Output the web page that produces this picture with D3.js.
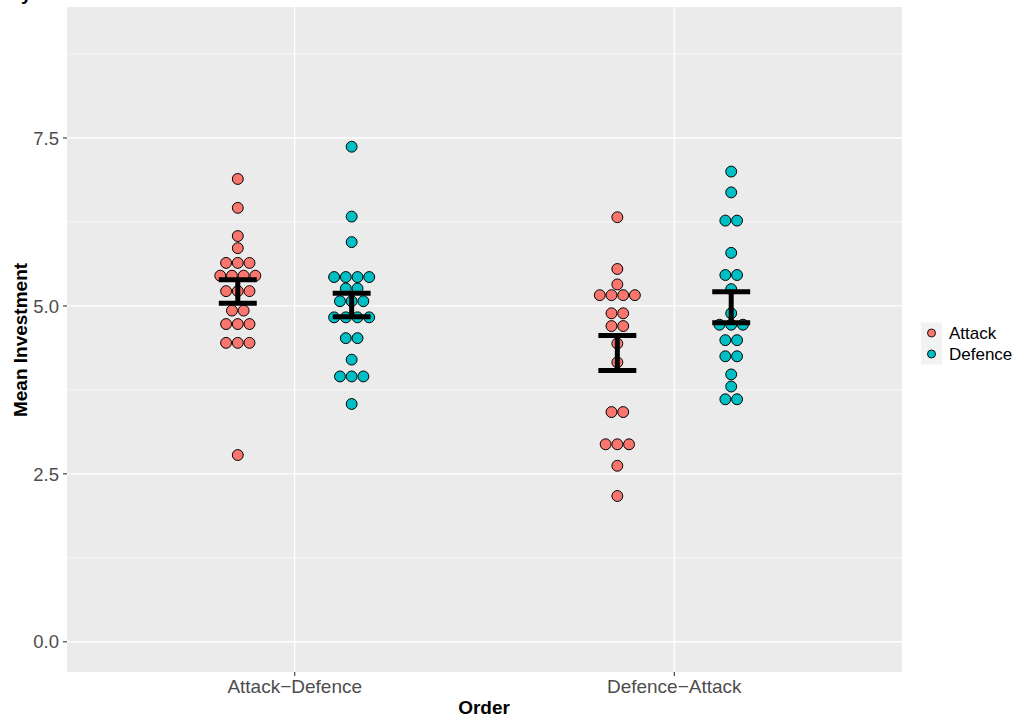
<!DOCTYPE html>
<html>
<head>
<meta charset="utf-8">
<script src="https://cdn.jsdelivr.net/npm/d3@7/dist/d3.min.js"></script>
<style>
  body { margin: 0; background: #fff; }
  svg text { font-family: "Liberation Sans", Arial, Helvetica, sans-serif; }
</style>
</head>
<body>
<svg id="chart" width="1018" height="720"></svg>
<script>
// ---- data ----
const orders = ["Attack\u2212Defence", "Defence\u2212Attack"];
const roles = ["Attack", "Defence"];
const roleColors = ["#F8766D", "#00BFC4"];
const yTicks = [0, 2.5, 5, 7.5];
const yTickLabels = ["0.0", "2.5", "5.0", "7.5"];

// individual participant means (one dot each)
const adAttack = [6.89, 6.46, 6.04, 5.86, 5.64, 5.64, 5.64, 5.45, 5.45, 5.45, 5.45,
  5.22, 5.22, 5.22, 4.93, 4.93, 4.73, 4.73, 4.73, 4.45, 4.45, 4.45, 2.78];
const adDefence = [7.37, 6.33, 5.95, 5.43, 5.43, 5.43, 5.43, 5.26, 5.26, 5.07, 5.07, 5.07,
  4.83, 4.83, 4.83, 4.83, 4.52, 4.52, 4.20, 3.95, 3.95, 3.95, 3.54];
const daAttack = [6.32, 5.55, 5.32, 5.16, 5.16, 5.16, 5.16, 4.89, 4.89, 4.70, 4.70,
  4.44, 4.16, 3.42, 3.42, 2.94, 2.94, 2.94, 2.62, 2.17];
const daDefence = [7.00, 6.69, 6.27, 6.27, 5.79, 5.46, 5.46, 5.25, 4.89, 4.72, 4.72, 4.72,
  4.49, 4.49, 4.25, 4.25, 3.98, 3.80, 3.61, 3.61];

// error bars (mean ± SE)
const errLow = [5.04, 4.84, 4.04, 4.75];
const errHigh = [5.39, 5.19, 4.56, 5.21];

const groups = [
  { order: 0, role: 0, values: adAttack },
  { order: 0, role: 1, values: adDefence },
  { order: 1, role: 0, values: daAttack },
  { order: 1, role: 1, values: daDefence }
];

// ---- layout ----
const svg = d3.select("#chart");
const panel = { left: 67, top: 7, right: 902, bottom: 672 };

const y = d3.scaleLinear().domain([-0.45, 9.45]).range([panel.bottom, panel.top]);
const x = d3.scaleLinear().domain([0.4, 2.6]).range([panel.left, panel.right]);
const dodge = d3.scaleLinear().domain([0, 1]).range([-0.15, 0.15]);

const dotDiam = 11.7;
const tickColor = "#333333";
const textColor = "#4D4D4D";

// panel
svg.append("rect")
  .attr("x", panel.left).attr("y", panel.top)
  .attr("width", panel.right - panel.left).attr("height", panel.bottom - panel.top)
  .attr("fill", "#EBEBEB");

const minor = [1.25, 3.75, 6.25, 8.75];
svg.append("g").selectAll("line").data(minor).join("line")
  .attr("x1", panel.left).attr("x2", panel.right)
  .attr("y1", d => y(d)).attr("y2", d => y(d))
  .attr("stroke", "#fff").attr("stroke-width", 0.6);

svg.append("g").selectAll("line").data(yTicks).join("line")
  .attr("x1", panel.left).attr("x2", panel.right)
  .attr("y1", d => y(d)).attr("y2", d => y(d))
  .attr("stroke", "#fff").attr("stroke-width", 1.3);

svg.append("g").selectAll("line").data(orders).join("line")
  .attr("x1", (d, i) => x(i + 1)).attr("x2", (d, i) => x(i + 1))
  .attr("y1", panel.top).attr("y2", panel.bottom)
  .attr("stroke", "#fff").attr("stroke-width", 1.3);

// dots (stacked centre, touching)
const dotsG = svg.append("g");
groups.forEach(g => {
  const cx0 = x(g.order + 1 + dodge(g.role));
  const counts = d3.rollup(g.values, v => v.length, d => d);
  counts.forEach((n, val) => {
    for (let i = 0; i < n; i++) {
      dotsG.append("circle")
        .attr("cx", cx0 + (i - (n - 1) / 2) * dotDiam)
        .attr("cy", y(val))
        .attr("r", dotDiam / 2 - 0.4)
        .attr("fill", roleColors[g.role])
        .attr("stroke", "#000")
        .attr("stroke-width", 1);
    }
  });
});

// error bars
const errG = svg.append("g").attr("stroke", "#000").attr("stroke-width", 5).attr("fill", "none");
groups.forEach((g, k) => {
  const cx = x(g.order + 1 + dodge(g.role));
  const hw = x(0.05) - x(0);
  errG.append("line").attr("x1", cx).attr("x2", cx).attr("y1", y(errLow[k])).attr("y2", y(errHigh[k]));
  errG.append("line").attr("x1", cx - hw).attr("x2", cx + hw).attr("y1", y(errLow[k])).attr("y2", y(errLow[k]));
  errG.append("line").attr("x1", cx - hw).attr("x2", cx + hw).attr("y1", y(errHigh[k])).attr("y2", y(errHigh[k]));
});

// y axis
const yAx = svg.append("g");
yAx.selectAll("line").data(yTicks).join("line")
  .attr("x1", panel.left - 4).attr("x2", panel.left)
  .attr("y1", d => y(d)).attr("y2", d => y(d))
  .attr("stroke", tickColor).attr("stroke-width", 1.1);
yAx.selectAll("text").data(yTicks).join("text")
  .attr("x", panel.left - 8).attr("y", d => y(d))
  .attr("dy", "0.36em").attr("text-anchor", "end")
  .attr("font-size", 18.5).attr("fill", textColor)
  .text((d, i) => yTickLabels[i]);

// x axis
const xAx = svg.append("g");
xAx.selectAll("line").data(orders).join("line")
  .attr("x1", (d, i) => x(i + 1)).attr("x2", (d, i) => x(i + 1))
  .attr("y1", panel.bottom).attr("y2", panel.bottom + 4)
  .attr("stroke", tickColor).attr("stroke-width", 1.1);
xAx.selectAll("text").data(orders).join("text")
  .attr("x", (d, i) => x(i + 1)).attr("y", 693)
  .attr("text-anchor", "middle")
  .attr("font-size", 19).attr("fill", textColor)
  .text(d => d);

// axis titles
svg.append("text").attr("x", 484).attr("y", 714).attr("text-anchor", "middle")
  .attr("font-size", 19).attr("font-weight", "bold").attr("fill", "#000").text("Order");
svg.append("text").attr("transform", "translate(27,340) rotate(-90)").attr("text-anchor", "middle")
  .attr("font-size", 19).attr("font-weight", "bold").attr("fill", "#000").text("Mean Investment");

// clipped title fragment at top-left (as in the reference)
svg.append("text").attr("x", 21).attr("y", 0)
  .attr("font-size", 19).attr("font-weight", "bold").attr("fill", "#000").text("y");

// legend
const lg = svg.append("g");
roles.forEach((r, i) => {
  const cy = 333 + i * 21;
  lg.append("rect").attr("x", 921).attr("y", cy - 10.5).attr("width", 21).attr("height", 21).attr("fill", "#F2F2F2");
  lg.append("circle").attr("cx", 931.5).attr("cy", cy).attr("r", 4)
    .attr("fill", roleColors[i]).attr("stroke", "#000").attr("stroke-width", 0.9);
  lg.append("text").attr("x", 949).attr("y", cy).attr("dy", "0.36em")
    .attr("font-size", 17).attr("fill", "#000").text(r);
});
</script>
</body>
</html>
